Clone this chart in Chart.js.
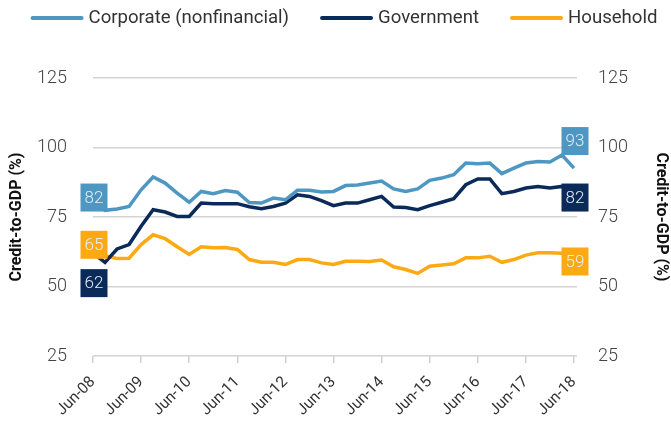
<!DOCTYPE html>
<html>
<head>
<meta charset="utf-8">
<script src="https://cdn.jsdelivr.net/npm/chart.js@4.4.1/dist/chart.umd.min.js"></script>
<style>
  html, body { margin: 0; padding: 0; background: #fff; }
  #wrap { width: 671px; height: 426px; position: relative; }
</style>
</head>
<body>
<div id="wrap"><canvas id="chart"></canvas></div>
<script>
const quarters = [
  'Jun-08','Sep-08','Dec-08','Mar-09','Jun-09','Sep-09','Dec-09','Mar-10',
  'Jun-10','Sep-10','Dec-10','Mar-11','Jun-11','Sep-11','Dec-11','Mar-12',
  'Jun-12','Sep-12','Dec-12','Mar-13','Jun-13','Sep-13','Dec-13','Mar-14',
  'Jun-14','Sep-14','Dec-14','Mar-15','Jun-15','Sep-15','Dec-15','Mar-16',
  'Jun-16','Sep-16','Dec-16','Mar-17','Jun-17','Sep-17','Dec-17','Mar-18',
  'Jun-18'
];
const corporate = [
  82, 77.4, 77.9, 78.8, 84.8, 89.4, 87.2, 83.6,
  80.3, 84.2, 83.4, 84.5, 83.9, 80.2, 80.0, 81.8,
  81.2, 84.6, 84.6, 84.0, 84.2, 86.3, 86.5, 87.2,
  87.9, 85.1, 84.2, 85.1, 88.2, 89.0, 90.2, 94.4,
  94.2, 94.4, 90.6, 92.6, 94.4, 95.0, 94.8, 97.3,
  92.6
];
const government = [
  62, 58.7, 63.5, 65.1, 71.7, 77.6, 76.8, 75.2,
  75.2, 80.0, 79.8, 79.8, 79.8, 78.7, 78.0, 78.8,
  80.0, 83.0, 82.4, 80.9, 79.1, 80.0, 80.0, 81.2,
  82.4, 78.6, 78.4, 77.6, 79.1, 80.3, 81.6, 86.6,
  88.7, 88.7, 83.4, 84.2, 85.4, 86.0, 85.4, 86.0,
  82
];
const household = [
  65, 61.0, 60.1, 60.2, 65.1, 68.6, 67.2, 64.3,
  61.5, 64.3, 63.9, 64.0, 63.3, 59.7, 58.7, 58.7,
  57.9, 59.7, 59.7, 58.5, 57.9, 59.1, 59.1, 59.0,
  59.5, 57.1, 56.1, 54.7, 57.3, 57.7, 58.2, 60.3,
  60.3, 60.9, 58.7, 59.7, 61.3, 62.1, 62.1, 62.0,
  59
];
const yTicks = [25, 50, 75, 100, 125];

const font = "'Roboto', 'Liberation Sans', sans-serif";
const blue = '#4e97c2';
const navy = '#0a2a5a';
const orange = '#fda914';

// horizontal grid, one line per y tick (edge lines included)
const hGrid = {
  id: 'hGrid',
  beforeDatasetsDraw(chart) {
    const { ctx, chartArea } = chart;
    const y = chart.scales.y;
    ctx.save();
    ctx.strokeStyle = '#d3d3d3';
    ctx.lineWidth = 1.5;
    y.ticks.forEach(t => {
      const py = Math.round(y.getPixelForValue(t.value)) - 0.25;
      ctx.beginPath();
      ctx.moveTo(chartArea.left, py);
      ctx.lineTo(chartArea.right + 3, py);
      ctx.stroke();
    });
    ctx.restore();
  }
};

// boxes with the first and last value of each series
const endLabels = {
  id: 'endLabels',
  afterDatasetsDraw(chart, args, opts) {
    const ctx = chart.ctx;
    ctx.save();
    ctx.font = '300 17px ' + font;
    ctx.textAlign = 'center';
    ctx.textBaseline = 'middle';
    chart.data.datasets.forEach((ds, i) => {
      const meta = chart.getDatasetMeta(i);
      const ends = [0, ds.data.length - 1];
      ends.forEach((idx, k) => {
        const pt = meta.data[idx];
        const dy = (k === 0 ? opts.shiftFirst : opts.shiftLast)[i];
        const x = pt.x + 1, y = pt.y + dy;
        ctx.fillStyle = ds.borderColor;
        ctx.fillRect(x - 13.5, y - 14, 27, 28);
        ctx.fillStyle = '#e6edf5';
        ctx.fillText(String(Math.round(ds.data[idx])), x, y + 1);
      });
    });
    ctx.restore();
  }
};

// legend drawn by hand: short thick line + label, centred on one row
const lineLegend = {
  id: 'lineLegend',
  afterDraw(chart, args, opts) {
    const ctx = chart.ctx;
    ctx.save();
    ctx.font = opts.size + 'px ' + font;
    ctx.textBaseline = 'middle';
    const items = chart.data.datasets.map(ds => ({
      ds, w: opts.marker + opts.gap + ctx.measureText(ds.label).width
    }));
    const total = items.reduce((s, it) => s + it.w, 0) + opts.spacing * (items.length - 1);
    let x = opts.center - total / 2;
    items.forEach(it => {
      ctx.strokeStyle = it.ds.borderColor;
      ctx.lineWidth = 4;
      ctx.lineCap = 'round';
      ctx.beginPath();
      ctx.moveTo(x + 2, opts.y);
      ctx.lineTo(x + opts.marker - 2, opts.y);
      ctx.stroke();
      ctx.fillStyle = '#333';
      ctx.fillText(it.ds.label, x + opts.marker + opts.gap, opts.y);
      x += it.w + opts.spacing;
    });
    ctx.restore();
  }
};

const titleCfg = (pad) => ({
  display: true,
  text: 'Credit-to-GDP (%)',
  color: '#111',
  font: { family: font, size: 16, weight: 'bold' },
  padding: { top: pad, bottom: 0 }
});

const yScale = (side, pad, titlePad, width) => ({
  position: side,
  min: yTicks[0],
  max: yTicks[yTicks.length - 1],
  afterBuildTicks: s => { s.ticks = yTicks.map(v => ({ value: v })); },
  border: { display: false },
  grid: { display: false },
  ticks: { padding: pad, color: '#444', font: { family: font, size: 18, weight: '300' } },
  title: titleCfg(titlePad),
  afterFit: s => { s.width = width; }
});

new Chart(document.getElementById('chart'), {
  type: 'line',
  data: {
    labels: quarters,
    datasets: [
      { label: 'Corporate (nonfinancial)', data: corporate, borderColor: blue, backgroundColor: blue, yAxisID: 'y' },
      { label: 'Government', data: government, borderColor: navy, backgroundColor: navy, yAxisID: 'y' },
      { label: 'Household', data: household, borderColor: orange, backgroundColor: orange, yAxisID: 'y' }
    ]
  },
  options: {
    responsive: true,
    maintainAspectRatio: false,
    animation: false,
    layout: { padding: { top: 78, left: 0, right: 0, bottom: 0 } },
    elements: {
      line: { borderWidth: 3.5, tension: 0 },
      point: { radius: 0 }
    },
    plugins: {
      tooltip: { enabled: false },
      legend: { display: false },
      lineLegend: { y: 18, center: 344, size: 18.6, marker: 53, gap: 5, spacing: 31 },
      endLabels: { shiftFirst: [0, 30, 0], shiftLast: [-27, 0, 0] }
    },
    scales: {
      x: {
        offset: false,
        border: { display: false },
        grid: {
          drawOnChartArea: false,
          drawTicks: true,
          tickLength: 7,
          tickColor: c => (c.index % 4 === 0 ? '#cfcfcf' : 'rgba(0,0,0,0)'),
          lineWidth: 1.5
        },
        ticks: {
          autoSkip: false,
          minRotation: 45,
          maxRotation: 45,
          padding: 10,
          color: '#333',
          font: { family: font, size: 15.5 },
          callback: function (v, i) { return i % 4 === 0 ? this.getLabelForValue(v) : ''; }
        },
        afterFit: s => { s.height = 70; }
      },
      y: yScale('left', 18, 7, 93),
      y2: yScale('right', 16, 0, 97)
    }
  },
  plugins: [hGrid, endLabels, lineLegend]
});
</script>
</body>
</html>
